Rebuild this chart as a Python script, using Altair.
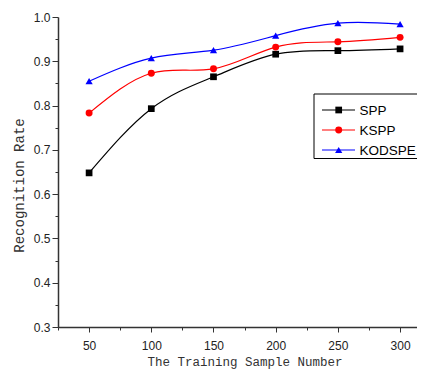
import altair as alt
import pandas as pd

# ---- data ----
samples = [50, 100, 150, 200, 250, 300]
spp = [0.648, 0.793, 0.865, 0.916, 0.924, 0.928]
kspp = [0.783, 0.873, 0.883, 0.932, 0.944, 0.954]
kodspe = [0.855, 0.907, 0.925, 0.958, 0.986, 0.984]

series_names = ["SPP", "KSPP", "KODSPE"]
series_colors = ["#000000", "#ff0000", "#0000ff"]
marker_shapes = ["square", "circle", "triangle-up"]
marker_sizes = [45, 52, 66]
legend_marker_sizes = [34, 40, 50]
legend_rows = [0, 1, 2]

x_major = [50, 100, 150, 200, 250, 300]
x_minor = [25, 75, 125, 175, 225, 275]
y_major = [0.3, 0.4, 0.5, 0.6, 0.7, 0.8, 0.9, 1.0]
y_minor = [0.35, 0.45, 0.55, 0.65, 0.75, 0.85, 0.95]

rows = []
for name, vals in zip(series_names, [spp, kspp, kodspe]):
    for s, v in zip(samples, vals):
        rows.append({"series": name, "n": s, "rate": v})
df = pd.DataFrame(rows)
legend_df = pd.DataFrame({"series": series_names, "row": legend_rows})

# plot area: 359 px wide (page must stay inside 425 px), 62.2 px per 50 samples
xs = alt.Scale(domain=[25, 313.6], nice=False, zero=False)
ys = alt.Scale(domain=[0.3, 1.0], nice=False, zero=False)
cs = alt.Scale(domain=series_names, range=series_colors)
ss = alt.Scale(domain=series_names, range=marker_shapes)
szs = alt.Scale(domain=series_names, range=marker_sizes)
lszs = alt.Scale(domain=series_names, range=legend_marker_sizes)

axis_common = dict(
    grid=False,
    labelFont="Liberation Sans",
    labelFontSize=12,
    labelColor="#222222",
    domainColor="#333333",
    domainWidth=1.5,
    tickColor="#333333",
    tickWidth=1,
    titleFont="Liberation Mono",
    titleFontWeight="normal",
    titleColor="#333333",
)

x_axis = alt.Axis(
    values=x_major, title="The Training Sample Number", orient="bottom",
    tickSize=5, labelPadding=8, titleFontSize=12.5,
    titleX=186.5, titleY=38, titleBaseline="alphabetic", titleAlign="center",
    **axis_common,
)
y_axis = alt.Axis(
    values=y_major, format=".1f", title="Recognition Rate", orient="left",
    tickSize=6, labelPadding=2, titleFontSize=14,
    titleX=-39, titleY=168, titleAngle=270, titleBaseline="middle",
    titleAlign="center",
    **axis_common,
)
x_minor_axis = alt.Axis(
    values=x_minor, orient="bottom", labels=False, domain=False, title=None,
    tickSize=3, tickColor="#333333", tickWidth=1, grid=False,
)
y_minor_axis = alt.Axis(
    values=y_minor, orient="left", labels=False, domain=False, title=None,
    tickSize=3, tickColor="#333333", tickWidth=1, grid=False,
)

base = alt.Chart(df)

lines = base.mark_line(interpolate="natural", strokeWidth=1.2).encode(
    x=alt.X("n:Q", scale=xs, axis=x_axis),
    y=alt.Y("rate:Q", scale=ys, axis=y_axis),
    color=alt.Color("series:N", scale=cs, legend=None),
)

points = base.mark_point(filled=True, opacity=1).encode(
    x=alt.X("n:Q", scale=xs, axis=x_minor_axis),
    y=alt.Y("rate:Q", scale=ys, axis=y_minor_axis),
    color=alt.Color("series:N", scale=cs, legend=None),
    shape=alt.Shape("series:N", scale=ss, legend=None),
    size=alt.Size("series:N", scale=szs, legend=None),
)

# ---- legend (box, line samples, markers, labels) ----
leg_y = alt.Y("row:Q", scale=alt.Scale(domain=[0, 2], range=[93, 133]), axis=None)
leg_base = alt.Chart(legend_df)

leg_box = alt.Chart(pd.DataFrame({"box": [0]})).mark_rect(
    fill="white", stroke="black", strokeWidth=1
).encode(
    x=alt.value(256), x2=alt.value(400), y=alt.value(77), y2=alt.value(141.5)
)
leg_lines = leg_base.mark_rule(strokeWidth=1.2).encode(
    x=alt.value(264), x2=alt.value(297), y=leg_y,
    color=alt.Color("series:N", scale=cs, legend=None),
)
leg_marks = leg_base.mark_point(filled=True, opacity=1).encode(
    x=alt.value(280.7), y=leg_y,
    color=alt.Color("series:N", scale=cs, legend=None),
    shape=alt.Shape("series:N", scale=ss, legend=None),
    size=alt.Size("series:N", scale=lszs, legend=None),
)
leg_text = leg_base.mark_text(
    align="left", baseline="middle", font="Liberation Sans", fontSize=13.5,
    color="black", dy=0.5,
).encode(
    x=alt.value(301.5), y=leg_y, text="series:N",
)

chart = alt.layer(
    lines, points, leg_box, leg_lines, leg_marks, leg_text
).resolve_scale(
    x="independent", y="independent"
).properties(
    width=359, height=310,
    autosize=alt.AutoSizeParams(type="none"),
    padding={"left": 50, "top": 9, "right": 0, "bottom": 43},
).configure_view(stroke=None)

chart.save("out.html", embed_options={"renderer": "svg", "actions": False})
